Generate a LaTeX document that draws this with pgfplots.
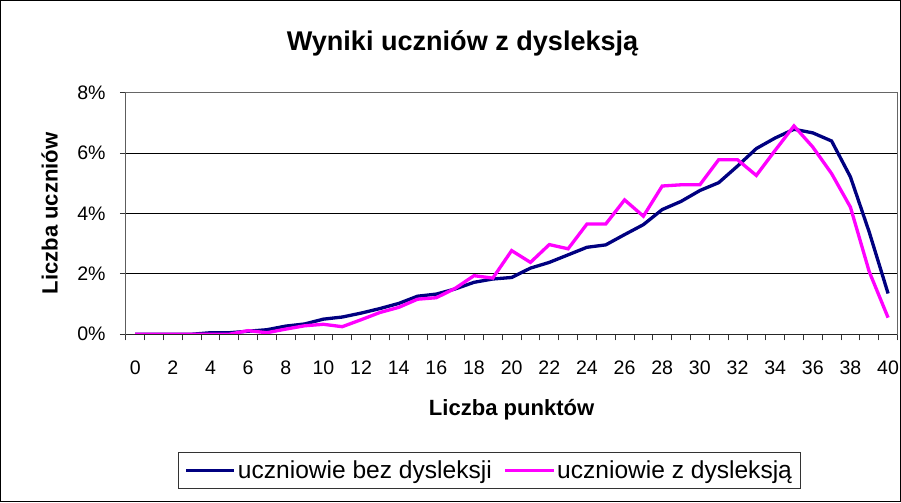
\documentclass[border=0pt]{standalone}
\usepackage{fontspec}
\setmainfont{Liberation Sans}
\usepackage{pgfplots}
\pgfplotsset{compat=1.18}
\definecolor{navyline}{RGB}{0,0,128}
\definecolor{magline}{RGB}{255,0,255}
\begin{document}
\begin{tikzpicture}
\begin{axis}[
  scale only axis,
  width=770pt, height=241pt,
  xmin=-0.5, xmax=40.5,
  ymin=0, ymax=8,
  axis line style={draw=gray!80!black, line width=1pt},
  xtick={0,2,...,40},
  major x tick style={draw=none},
  minor xtick={-0.5,0.5,...,40.5},
  minor tick length=6pt,
  ytick={0,2,4,6,8},
  yticklabels={0\%,2\%,4\%,6\%,8\%},
  major tick length=6pt,
  tick align=outside,
  xtick pos=bottom, ytick pos=left,
  tick style={black!80, line width=0.8pt},
  ymajorgrids,
  grid style={black, line width=0.8pt},
  /pgf/number format/assume math mode=true,
  ticklabel style={font=\fontsize{19.5}{22}\selectfont, inner sep=0pt},
  xticklabel style={anchor=center, yshift=-27pt},
  yticklabel style={anchor=east, xshift=-14pt},
  xlabel={Liczba punktów},
  ylabel={Liczba uczniów},
  label style={font=\bfseries\fontsize{22}{24}\selectfont},
  xlabel style={at={(axis description cs:0.5,-0.311)}, anchor=center},
  ylabel style={at={(axis description cs:-0.0987,0.5)}, anchor=center},
  legend columns=2,
  legend style={at={(axis description cs:0.471,-0.564)}, anchor=center,
    draw=black!80, line width=0.8pt, font=\fontsize{24.5}{27}\selectfont,
    inner xsep=6pt, inner ysep=6pt,
    /tikz/every even column/.append style={column sep=10pt}},
  legend image code/.code={\draw[#1] (0pt,0pt) -- (48pt,0pt);},
]
\addplot[navyline, line width=3.3pt] coordinates {
(0,0) (1,0) (2,0) (3,0) (4,0.05) (5,0.05) (6,0.1) (7,0.15) (8,0.27) (9,0.34)
(10,0.5) (11,0.57) (12,0.7) (13,0.85) (14,1.02) (15,1.26) (16,1.33) (17,1.5) (18,1.72) (19,1.83)
(20,1.88) (21,2.19) (22,2.38) (23,2.63) (24,2.88) (25,2.96) (26,3.3) (27,3.63) (28,4.13) (29,4.40)
(30,4.76) (31,5.02) (32,5.57) (33,6.15) (34,6.50) (35,6.79) (36,6.67) (37,6.40) (38,5.21) (39,3.38)
(40,1.35)};
\addlegendentry{uczniowie bez dysleksji}
\addplot[magline, line width=3.3pt] coordinates {
(0,0) (1,0) (2,0) (3,0) (4,0) (5,0) (6,0.12) (7,0.05) (8,0.17) (9,0.28)
(10,0.33) (11,0.25) (12,0.48) (13,0.72) (14,0.89) (15,1.16) (16,1.21) (17,1.52) (18,1.94) (19,1.86)
(20,2.77) (21,2.38) (22,2.97) (23,2.83) (24,3.65) (25,3.65) (26,4.45) (27,3.91) (28,4.91) (29,4.95)
(30,4.95) (31,5.78) (32,5.78) (33,5.26) (34,6.09) (35,6.90) (36,6.20) (37,5.32) (38,4.21) (39,2.07)
(40,0.55)};
\addlegendentry{uczniowie z dysleksją}
\draw[black!85, line width=1pt] (axis cs:-0.5,8) -- (axis cs:-0.5,0) -- (axis cs:40.5,0);
\end{axis}
\node[font=\bfseries\fontsize{27}{30}\selectfont] at (336pt,290pt) {Wyniki uczniów z dysleksją};
\draw[black, line width=1pt] (-125pt,-167pt) rectangle (773pt,333pt);
\end{tikzpicture}
\end{document}
